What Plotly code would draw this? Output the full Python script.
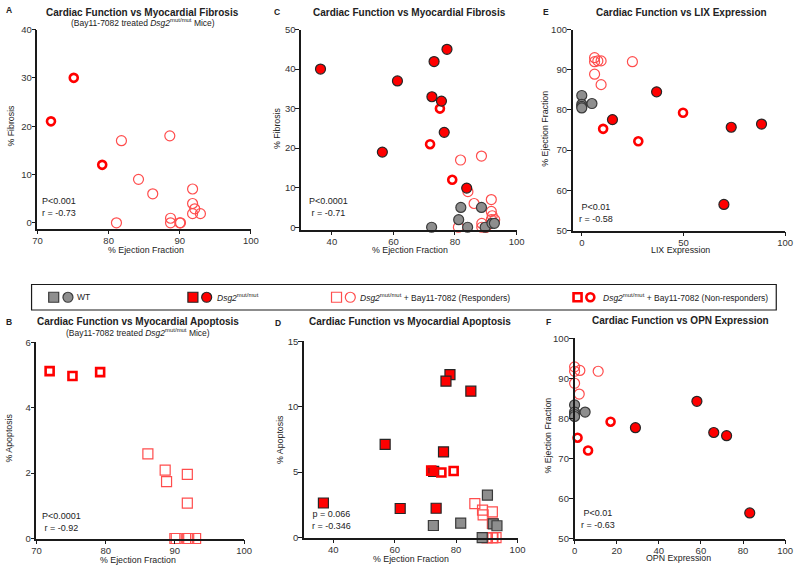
import plotly.graph_objects as go

# ---------------- data ----------------
# Panel A: EF vs fibrosis (treated only)
A_resp_ef = [81.8, 88.6, 84.2, 86.2, 91.8, 91.8, 92.1, 91.8, 92.9, 88.7, 88.7, 90.1, 90.0, 81.1]
A_resp_fib = [17, 18, 9, 6, 7, 4, 2.9, 1.9, 1.9, 0.95, 0, 0, 0, 0]
A_non_ef = [75.1, 71.9, 79.1]
A_non_fib = [30, 21, 12]

# Panel C: EF vs fibrosis (all groups)
C_wt_ef = [72.4, 81.2, 81.9, 84.1, 88.6, 89.8, 92.0, 92.8]
C_wt_fib = [0, 1.9, 5.0, 0, 5.0, 0, 1.0, 1.0]
C_mut_ef = [36.3, 77.4, 73.2, 61.3, 72.5, 75.6, 76.5, 56.4, 83.8]
C_mut_fib = [40, 45, 41.9, 37, 33, 31.9, 24, 19, 9.9]
C_resp_ef = A_resp_ef
C_resp_fib = A_resp_fib
C_non_ef = A_non_ef
C_non_fib = A_non_fib

# Panel B: EF vs apoptosis (treated only)
B_resp_ef = [86.1, 88.6, 88.8, 91.8, 91.8, 90.0, 90.2, 91.8, 92.0, 93.0]
B_resp_apo = [2.59, 2.09, 1.74, 1.96, 1.08, 0, 0, 0, 0, 0]
B_non_ef = [71.9, 75.2, 79.2]
B_non_apo = [5.12, 4.97, 5.09]

# Panel D: EF vs apoptosis (all groups)
D_wt_ef = [90.2, 81.5, 72.6, 92.1, 93.3, 88.5]
D_wt_apo = [3.24, 1.10, 0.92, 1.05, 0.9, 0]
D_mut_ef = [36.8, 56.9, 61.8, 78.0, 76.7, 84.8, 75.9, 72.7, 73.5]
D_mut_apo = [2.64, 7.13, 2.22, 12.46, 11.96, 11.19, 6.55, 5.06, 2.24]
D_resp_ef = B_resp_ef
D_resp_apo = B_resp_apo
D_non_ef = B_non_ef
D_non_apo = B_non_apo

# Panel E: LIX vs EF
E_wt_lix = [0, 0, 0, 0, 5.0]
E_wt_ef = [83.6, 81.4, 80.9, 80.5, 81.6]
E_resp_lix = [6.3, 6.3, 7.9, 9.5, 6.3, 9.5, 24.9]
E_resp_ef = [93.0, 92.0, 92.2, 92.2, 88.9, 86.3, 92.0]
E_non_lix = [10.5, 27.8, 49.8]
E_non_ef = [75.3, 72.2, 79.3]
E_mut_lix = [15.1, 36.8, 73.5, 88.4, 69.9]
E_mut_ef = [77.6, 84.5, 75.7, 76.5, 56.5]

# Panel F: OPN vs EF
F_wt_opn = [0, 0, 0, 0, 5.0]
F_wt_ef = [83.4, 81.6, 81.0, 80.5, 81.6]
F_resp_opn = [0, 0, 2.5, 11.2, 0, 2.2]
F_resp_ef = [92.9, 91.8, 92.0, 91.8, 88.8, 86.1]
F_non_opn = [1.4, 6.4, 17.1]
F_non_ef = [75.2, 72.0, 79.2]
F_mut_opn = [28.9, 58.1, 66.1, 72.2, 83.2]
F_mut_ef = [77.7, 84.3, 76.5, 75.7, 56.4]

stats = {
    "A": "P<0.001<br>r = -0.73",
    "C": "P<0.0001<br>r = -0.71",
    "E": "P<0.01<br>r = -0.58",
    "B": "P<0.0001<br>r = -0.92",
    "D": "p = 0.066<br>r = -0.346",
    "F": "P<0.01<br>r = -0.63",
}

# ---------------- styles ----------------
FONT = "Liberation Sans, Arial, sans-serif"
GRAY_FILL = "#8e8e8e"
GRAY_LINE = "#3a3a3a"
RED = "#ff0000"
RESP = "#ff4d4d"
DARK = "#262626"

STY = {
    "wt": dict(color=GRAY_FILL, size=10, line=dict(color=GRAY_LINE, width=1.2)),
    "mut": dict(color=RED, size=10, line=dict(color=DARK, width=1.2)),
    "resp": dict(color="rgba(0,0,0,0)", size=10, line=dict(color=RESP, width=1.2)),
    "non": dict(color="rgba(0,0,0,0)", size=8, line=dict(color=RED, width=2.6)),
}

fig = go.Figure()


def add(xs, ys, grp, sym, ax):
    m = dict(STY[grp])
    m["symbol"] = sym
    fig.add_trace(go.Scatter(x=xs, y=ys, mode="markers", marker=m,
                             xaxis="x" + ax, yaxis="y" + ax,
                             showlegend=False, cliponaxis=False, hoverinfo="skip"))


# A
add(A_resp_ef, A_resp_fib, "resp", "circle", "")
add(A_non_ef, A_non_fib, "non", "circle", "")
# C
add(C_resp_ef, C_resp_fib, "resp", "circle", "2")
add(C_non_ef, C_non_fib, "non", "circle", "2")
add(C_wt_ef, C_wt_fib, "wt", "circle", "2")
add(C_mut_ef, C_mut_fib, "mut", "circle", "2")
# E
add(E_wt_lix, E_wt_ef, "wt", "circle", "3")
add(E_resp_lix, E_resp_ef, "resp", "circle", "3")
add(E_non_lix, E_non_ef, "non", "circle", "3")
add(E_mut_lix, E_mut_ef, "mut", "circle", "3")
# B
add(B_resp_ef, B_resp_apo, "resp", "square", "4")
add(B_non_ef, B_non_apo, "non", "square", "4")
# D
add(D_resp_ef, D_resp_apo, "resp", "square", "5")
add(D_wt_ef, D_wt_apo, "wt", "square", "5")
add(D_mut_ef, D_mut_apo, "mut", "square", "5")
add(D_non_ef, D_non_apo, "non", "square", "5")
# F
add(F_wt_opn, F_wt_ef, "wt", "circle", "6")
add(F_resp_opn, F_resp_ef, "resp", "circle", "6")
add(F_non_opn, F_non_ef, "non", "circle", "6")
add(F_mut_opn, F_mut_ef, "mut", "circle", "6")

W, H = 800, 570


def px(x):
    return x / W


def py(y):
    return 1 - y / H


def axis(domain, rng, tickvals, anchor):
    return dict(domain=domain, range=rng, tickvals=tickvals, anchor=anchor,
                showline=True, linecolor="#1a1a1a", linewidth=1.5,
                ticks="outside", ticklen=4, tickwidth=1.2, tickcolor="#1a1a1a",
                ticklabelstandoff=-2,
                showgrid=False, zeroline=False,
                tickfont=dict(family=FONT, size=9.5, color="#333"))


panels = {
    # key: (axis suffix, xdom px, ydom px, xrange, yrange, xticks, yticks)
    "A": ("", (33, 250), (24, 227), [70, 100], [-1.2, 40], [70, 80, 90, 100], [0, 10, 20, 30, 40]),
    "C": ("2", (301, 520), (24, 228), [30, 100], [-0.6, 50], [40, 60, 80, 100], [0, 10, 20, 30, 40, 50]),
    "E": ("3", (577, 793), (24, 229), [-4.5, 100], [50, 100], [0, 50, 100], [50, 60, 70, 80, 90, 100]),
    "B": ("4", (32, 243), (343, 543), [70, 100], [0, 6], [70, 80, 90, 100], [0, 2, 4, 6]),
    "D": ("5", (304, 521), (342, 542), [30.5, 100], [0, 15], [40, 60, 80, 100], [0, 5, 10, 15]),
    "F": ("6", (579, 793), (339, 543), [0, 100], [50, 100], [0, 20, 40, 60, 80, 100], [50, 60, 70, 80, 90, 100]),
}

layout = dict(width=W, height=H, margin=dict(l=0, r=0, t=0, b=0),
              paper_bgcolor="white", plot_bgcolor="white",
              font=dict(family=FONT, color="#222"), showlegend=False)

for k, (s, xd, yd, xr, yr, xt, yt) in panels.items():
    n = s if s else ""
    layout["xaxis" + n] = axis([px(xd[0]), px(xd[1])], xr, xt, "y" + n)
    layout["yaxis" + n] = axis([py(yd[1]), py(yd[0])], yr, yt, "x" + n)

anns = []


def txt(x, y, t, size=9, bold=False, angle=0, xanchor="center", yanchor="middle", color="#222"):
    if bold:
        t = "<b>" + t + "</b>"
    anns.append(dict(x=px(x), y=py(y), xref="paper", yref="paper", text=t, showarrow=False,
                     font=dict(family=FONT, size=size, color=color), textangle=angle,
                     xanchor=xanchor, yanchor=yanchor))


DSG = "<i>Dsg2</i><sup>mut/mut</sup>"
TS = 10
AX = 8.8
# titles
txt(140, 7, "Cardiac Function vs Myocardial Fibrosis", TS, True)
txt(140, 17, "(Bay11-7082 treated " + DSG + " Mice)", 8.5)
txt(411, 7, "Cardiac Function vs Myocardial Fibrosis", TS, True)
txt(688, 7, "Cardiac Function vs LIX Expression", TS, True)
txt(135, 322, "Cardiac Function vs Myocardial Apoptosis", TS, True)
txt(135, 333, "(Bay11-7082 treated " + DSG + " Mice)", 8.5)
txt(412, 322, "Cardiac Function vs Myocardial Apoptosis", TS, True)
txt(687, 321, "Cardiac Function vs OPN Expression", TS, True)
# panel letters
for lab, (x, y) in {"A": (4, 4), "C": (277, 6), "E": (550, 6), "B": (4, 322), "D": (278, 323), "F": (552, 322)}.items():
    txt(x, y, lab, 8.5, True, xanchor="center")
# axis titles
txt(143, 249, "% Ejection Fraction", AX)
txt(412, 249, "% Ejection Fraction", AX)
txt(687, 249, "LIX Expression", AX)
txt(135, 565, "% Ejection Fraction", AX)
txt(413, 564, "% Ejection Fraction", AX)
txt(685, 563, "OPN Expression", AX)
txt(6, 122, "% Fibrosis", AX, angle=-90)
txt(276, 125, "% Fibrosis", AX, angle=-90)
txt(549, 125, "% Ejection Fraction", AX, angle=-90)
txt(4, 440, "% Apoptosis", AX, angle=-90)
txt(280, 442, "% Apoptosis", AX, angle=-90)
txt(552, 438, "% Ejection Fraction", AX, angle=-90)
# stats
for k, (x, y) in {"A": (36, 218), "C": (307, 218), "E": (581, 224), "B": (36, 539), "D": (310, 537), "F": (583, 536)}.items():
    txt(x, y, stats[k], 9, xanchor="left", yanchor="bottom")

# ---------------- legend ----------------
LEG_TOP, LEG_BOT = 284, 310
layout["xaxis7"] = dict(domain=[0, 1], range=[0, W], visible=False, anchor="y7")
layout["yaxis7"] = dict(domain=[py(LEG_BOT), py(LEG_TOP)], range=[0, 1], visible=False, anchor="x7")
leg_items = [
    ("wt", 49.5, 64, 71, "WT"),
    ("mut", 191, 205, 213, DSG),
    ("resp", 337, 351, 359, DSG + " + Bay11-7082 (Responders)"),
    ("non", 582, 595, 606, DSG + " + Bay11-7082 (Non-responders)"),
]
for grp, xs, xc, xt, label in leg_items:
    add([xs], [0.5], grp, "square", "7")
    add([xc], [0.5], grp, "circle", "7")
    anns.append(dict(x=xt, y=0.5, xref="x7", yref="y7", text=label, showarrow=False,
                     xanchor="left", yanchor="middle", font=dict(family=FONT, size=8.5, color="#222")))
shapes = [dict(type="rect", xref="paper", yref="paper", x0=px(27), x1=px(784), y0=py(LEG_BOT), y1=py(LEG_TOP),
               line=dict(color="#1a1a1a", width=1.2), fillcolor="rgba(0,0,0,0)")]

layout["annotations"] = anns
layout["shapes"] = shapes
fig.update_layout(**layout)
fig.write_html("out.html", config={"displayModeBar": False},
               post_script="document.body.style.margin='0';document.body.style.overflow='hidden';")
